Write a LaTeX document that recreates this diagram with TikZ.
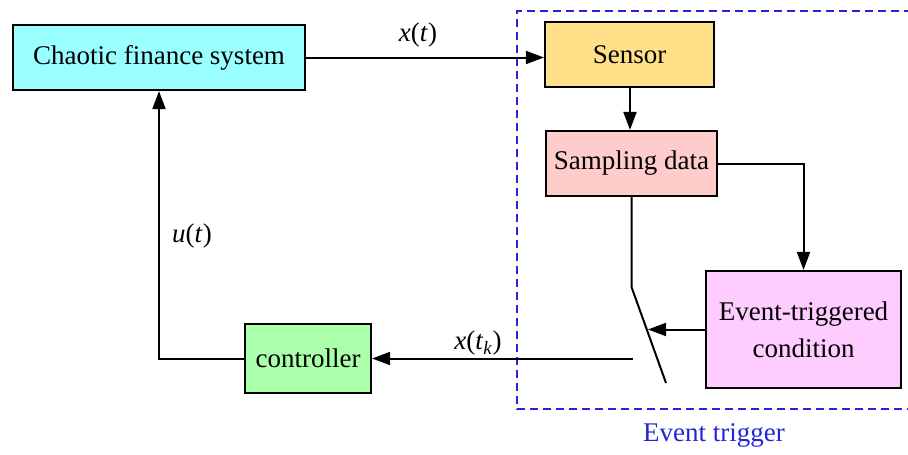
\documentclass[tikz,border=0pt]{standalone}
\usepackage{fontspec}
\setmainfont{Liberation Serif}
\usetikzlibrary{arrows.meta,calc}
\definecolor{cchaos}{HTML}{99FFFF}
\definecolor{csensor}{HTML}{FFDF88}
\definecolor{csample}{HTML}{FFCCCC}
\definecolor{cevent}{HTML}{FFCCFF}
\definecolor{cctrl}{HTML}{AAFFAA}
\definecolor{ctrig}{HTML}{2424D8}
\begin{document}
\begin{tikzpicture}[x=1pt,y=-1pt,
  font=\fontsize{27}{37}\selectfont,
  blockbox/.style={draw=black,line width=2.2pt,rectangle,inner sep=0pt,align=center},
  conn/.style={line width=2pt,draw=black},
  arr/.style={conn,-{Triangle[length=18pt,width=13pt]}},
  lbl/.style={inner sep=0pt}]
\useasboundingbox (0,0) rectangle (908,455);
% dashed event trigger region (right side runs off the picture)
\begin{scope}
\clip (0,0) rectangle (908,455);
\draw[ctrig,line width=2pt,dash pattern=on 8pt off 5pt] (912,11) -- (517,11) -- (517,409) -- (912,409);
\end{scope}
\node[lbl,text=ctrig] (trig) at (714,435) {Event trigger};
% blocks
\node[blockbox,fill=cchaos,minimum width=292pt,minimum height=65pt] (chaos) at (159,57.5) {Chaotic finance system};
\node[blockbox,fill=csensor,minimum width=169pt,minimum height=65pt] (sensor) at (629.5,54.5) {Sensor};
\node[blockbox,fill=csample,minimum width=171pt,minimum height=65pt] (sample) at (631.5,163.5) {Sampling data};
\node[blockbox,fill=cevent,minimum width=195pt,minimum height=117pt] (event) at (803.5,329.5) {Event-triggered\\condition};
\node[blockbox,fill=cctrl,minimum width=126pt,minimum height=69pt] (ctrl) at (308,358.5) {controller};
% switch coordinates
\coordinate (swbend) at (631.5,287);
\coordinate (swend) at (666,383);
\coordinate (swin) at (648,329.5);
\coordinate (swout) at (633,358.5);
% connectors
\draw[arr] (chaos.east) -- (chaos.east -| sensor.west);
\draw[arr] (sensor.south -| 630,0) -- (630,0 |- sample.north);
\draw[arr] (sample.east) -| (event.north);
\draw[conn] (sample.south) -- (swbend) -- (swend);
\draw[arr] (event.west) -- (swin);
\draw[arr] (swout) -- (ctrl.east);
\draw[arr] (ctrl.west) -| (chaos.south);
% labels
\node[lbl] (lx) at (418,35) {\textit{x}(\textit{t})};
\node[lbl] (lxk) at (478,343) {\textit{x}(\textit{t}\textsubscript{\textit{k}})};
\node[lbl] (lu) at (192,236) {\textit{u}(\textit{t})};
\end{tikzpicture}
\end{document}
